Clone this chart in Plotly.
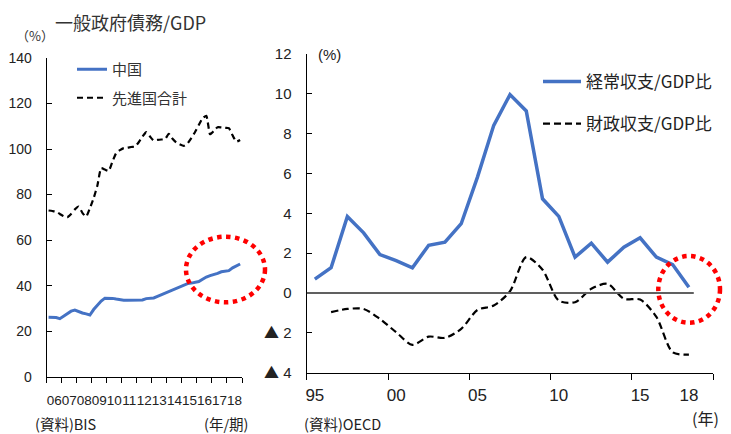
import plotly.graph_objects as go

# ---- Left panel: general government debt / GDP (quarterly, 2006Q1-2018Q4) ----
quarter_idx = list(range(52))
year_labels_left = ["06", "07", "08", "09", "10", "11", "12", "13", "14", "15", "16", "17", "18"]
china_debt = [
    26.1, 26.0, 26.0, 25.5,
    26.5, 27.8, 28.8, 29.3,
    28.5, 28.0, 27.6, 27.1,
    29.5, 31.5, 33.2, 34.5,
    34.5, 34.4, 34.1, 33.8,
    33.6, 33.6, 33.6, 33.6,
    33.6, 33.7, 34.3, 34.5,
    34.6, 35.3, 36.0, 36.8,
    37.6, 38.2, 38.8, 39.6,
    40.4, 40.9, 41.1, 41.3,
    41.8, 42.8, 43.8, 44.4,
    44.8, 45.4, 46.1, 46.2,
    46.6, 47.8, 48.8, 49.5,
]
advanced_debt = [
    73.0, 72.8, 72.5, 71.5,
    70.5, 70.1, 71.5, 73.5,
    74.7, 72.0, 70.3, 74.0,
    78.4, 84.0, 91.6, 91.0,
    90.4, 94.5, 98.2, 99.5,
    100.4, 100.6, 100.9, 101.1,
    103.0, 105.5, 107.4, 105.5,
    103.7, 104.0, 104.2, 104.3,
    106.7, 104.5, 102.9, 102.0,
    101.4, 102.5, 104.8, 107.5,
    110.6, 113.5, 114.6, 106.5,
    108.0, 109.6, 109.5, 109.3,
    109.2, 106.0, 103.3, 104.0,
]

# ---- Right panel: China current account and fiscal balance / GDP (annual) ----
years = list(range(1995, 2019))
current_account = [0.7, 1.27, 3.84, 3.02, 1.93, 1.63, 1.27, 2.4, 2.55, 3.48,
                   5.82, 8.42, 9.96, 9.14, 4.73, 3.85, 1.8, 2.5, 1.55, 2.3,
                   2.77, 1.8, 1.43, 0.29]
fiscal_years = list(range(1996, 2019))
fiscal_balance = [-0.96, -0.8, -0.8, -1.3, -1.97, -2.6, -2.19, -2.25, -1.8,
                  -0.85, -0.63, 0.09, 1.8, 1.17, -0.38, -0.46, 0.21, 0.46,
                  -0.29, -0.33, -1.2, -2.97, -3.09]
TRI = "<span style='font-family:Noto Sans CJK JP'>▲</span> "
right_tick_vals = [12, 10, 8, 6, 4, 2, 0, -2, -4]
right_tick_text = ["12", "10", "8", "6", "4", "2", "0", TRI + "2", TRI + "4"]
right_x_vals = [1995, 2000, 2005, 2010, 2015, 2018]
right_x_text = ["95", "00", "05", "10", "15", "18"]

W, H = 731, 434
BLUE = "#4472C4"
JP = "Noto Sans CJK JP"
LAT = "Liberation Sans"


def px(x):
    return x / W


def py(y):
    return (H - y) / H


fig = go.Figure()

fig.add_trace(go.Scatter(
    x=quarter_idx, y=china_debt, mode="lines", name="中国",
    line=dict(color=BLUE, width=3), xaxis="x", yaxis="y",
    legend="legend", legendgroup="a",
))
fig.add_trace(go.Scatter(
    x=quarter_idx, y=advanced_debt, mode="lines", name="先進国合計",
    line=dict(color="black", width=2.2, dash="6px,4px", shape="spline", smoothing=0.5),
    xaxis="x", yaxis="y", legend="legend", legendgroup="b",
))
fig.add_trace(go.Scatter(
    x=years, y=current_account, mode="lines", name="経常収支/GDP比",
    line=dict(color=BLUE, width=3.5), xaxis="x2", yaxis="y2",
    legend="legend2", legendgroup="c",
))
fig.add_trace(go.Scatter(
    x=fiscal_years, y=fiscal_balance, mode="lines", name="財政収支/GDP比",
    line=dict(color="black", width=2.2, dash="7px,4px", shape="spline", smoothing=0.8),
    xaxis="x2", yaxis="y2", legend="legend2", legendgroup="d",
))

left_centers = [4 * i + 1.5 for i in range(len(year_labels_left))]

axis_common = dict(showgrid=False, zeroline=False, showline=True,
                   linecolor="black", linewidth=1.3, automargin=False)

fig.update_layout(
    width=W, height=H,
    margin=dict(l=0, r=0, t=0, b=0, pad=0, autoexpand=False),
    paper_bgcolor="white", plot_bgcolor="white",
    xaxis=dict(
        domain=[px(46.7), px(242)], anchor="y", range=[-0.5, 51.5],
        tickvals=left_centers, ticktext=year_labels_left, ticks="", tickangle=0,
        tickfont=dict(family=LAT, size=13.5, color="#222"),
        ticklabelstandoff=11,
        minor=dict(tick0=-0.5, dtick=4, ticks="outside", ticklen=5,
                   tickcolor="black", showgrid=False),
        **axis_common,
    ),
    yaxis=dict(
        domain=[py(376.7), py(58)], anchor="x", range=[0, 140],
        tickvals=list(range(0, 141, 20)), ticks="inside", ticklen=5,
        tickcolor="black", tickfont=dict(family=LAT, size=14, color="#222"),
        ticklabelstandoff=11,
        **axis_common,
    ),
    xaxis2=dict(
        domain=[px(306.7), px(713.3)], anchor="y2", range=[1994.5, 2019.5],
        tickvals=right_x_vals, ticktext=right_x_text, ticks="", tickangle=0,
        tickfont=dict(family="Liberation Sans Narrow, Liberation Sans", size=17, color="#222"),
        ticklabelstandoff=7,
        minor=dict(tick0=1994.5, dtick=5, ticks="outside", ticklen=6,
                   tickcolor="black", showgrid=False),
        **axis_common,
    ),
    yaxis2=dict(
        domain=[py(372.7), py(54)], anchor="x2", range=[-4, 12],
        tickvals=right_tick_vals, ticktext=right_tick_text, ticks="inside",
        ticklen=5, tickcolor="black",
        tickfont=dict(family=LAT, size=15, color="#222"),
        ticklabelstandoff=11,
        **axis_common,
    ),
    legend=dict(
        x=px(72), y=py(53), xanchor="left", yanchor="top",
        bgcolor="rgba(0,0,0,0)", tracegroupgap=6, itemwidth=30,
        font=dict(family=JP, size=15, color="#333"),
    ),
    legend2=dict(
        x=px(538), y=py(64), xanchor="left", yanchor="top",
        bgcolor="rgba(0,0,0,0)", tracegroupgap=17, itemwidth=38,
        font=dict(family=JP, size=17, color="#222"),
    ),
)

# zero reference line on the right panel
fig.add_shape(type="line", xref="x2", yref="y2", x0=1994.5, x1=2018.3, y0=0, y1=0,
              line=dict(color="#606060", width=1.8))

# red dotted highlight rings around the latest readings
for cx0, cy0, cx1, cy1 in [(186, 236.7, 265, 302.3), (658.3, 256, 720, 322.7)]:
    fig.add_shape(type="circle", xref="paper", yref="paper",
                  x0=px(cx0), x1=px(cx1), y0=py(cy1), y1=py(cy0),
                  line=dict(color="#FF0000", width=4.5, dash="4.5px,4.5px"))

texts = [
    ("一般政府債務/GDP", 53, 22, 18, JP, "left", "#333"),
    ("（%）", 14, 35, 13, JP, "left", "#333"),
    ("(%)", 316, 54, 15, LAT, "left", "#222"),
    ("(資料)BIS", 33, 423, 14.5, JP, "left", "#222"),
    ("(年/期)", 202, 423, 14.5, JP, "left", "#222"),
    ("(資料)OECD", 302, 423, 14.5, JP, "left", "#222"),
    ("(年)", 721, 418, 16, JP, "right", "#222"),
]
for t, x, y, s, fam, anc, col in texts:
    fig.add_annotation(text=t, x=px(x), y=py(y), xref="paper", yref="paper",
                       xanchor=anc, yanchor="middle", showarrow=False,
                       font=dict(family=fam, size=s, color=col))

fig.write_html("out.html")
